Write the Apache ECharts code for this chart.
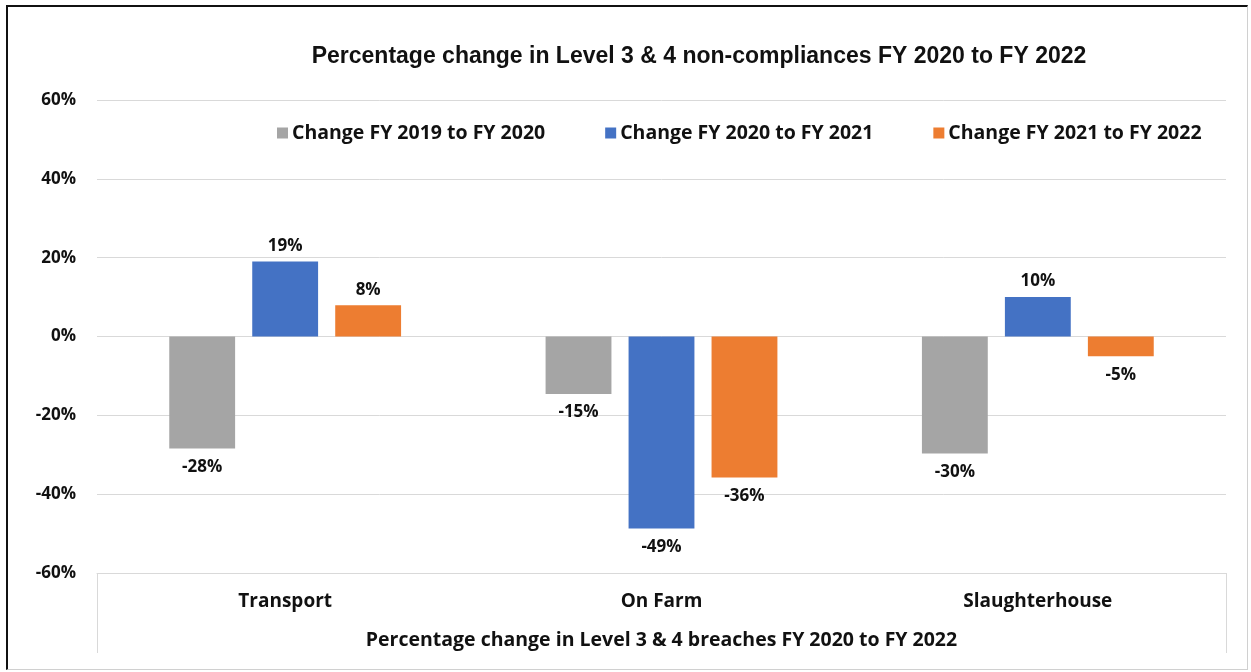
<!DOCTYPE html>
<html>
<head>
<meta charset="utf-8">
<script src="https://cdn.jsdelivr.net/npm/echarts@6/dist/echarts.min.js"></script>
<style>
html,body{margin:0;padding:0;background:#fff;}
#chart{width:1251px;height:672px;position:absolute;left:0;top:0;}
#frame{position:absolute;left:6px;top:5px;width:1242px;height:665px;box-sizing:border-box;
border-left:2px solid #111;border-top:2px solid #111;border-right:1px solid #d0d0d0;border-bottom:1px solid #d0d0d0;pointer-events:none;}
</style>
</head>
<body>
<div id="chart"></div>
<div id="frame"></div>
<script>
const categories = ['Transport', 'On Farm', 'Slaughterhouse'];
const seriesNames = ['Change FY 2019 to FY 2020', 'Change FY 2020 to FY 2021', 'Change FY 2021 to FY 2022'];
const change1920 = [-28.4, -14.6, -29.7];
const change2021 = [19, -48.7, 10];
const change2122 = [7.9, -35.8, -5];
const yTicks = [-60, -40, -20, 0, 20, 40, 60];
const titleText = 'Percentage change in Level 3 & 4 non-compliances FY 2020 to FY 2022';
const xTitle = 'Percentage change in Level 3 & 4 breaches FY 2020 to FY 2022';
const colors = ['#A5A5A5', '#4472C4', '#ED7D31'];

const font = '"Open Sans", "Noto Sans", sans-serif';

function mkData(arr) {
  return arr.map(v => ({
    value: v,
    label: { position: v < 0 ? 'bottom' : 'top', distance: v < 0 ? 10 : 7 }
  }));
}

const allSeries = [change1920, change2021, change2122].map((arr, i) => ({
  name: seriesNames[i],
  type: 'bar',
  xAxisIndex: 0,
  data: mkData(arr),
  barWidth: '17.5%',
  barGap: '26%',
  itemStyle: { color: colors[i] },
  label: {
    show: true,
    color: '#111',
    fontFamily: font,
    fontWeight: 'bold',
    fontSize: 17,
    formatter: p => Math.round(p.value) + '%'
  }
}));

const chart = echarts.init(document.getElementById('chart'), null, { renderer: 'canvas' });
chart.setOption({
  animation: false,
  backgroundColor: '#fff',
  title: {
    text: titleText,
    left: 694,
    textAlign: 'center',
    top: 40,
    textStyle: { fontFamily: '"Liberation Sans", Arial, sans-serif', fontWeight: 'bold', fontSize: 23, color: '#111' }
  },
  legend: {
    data: seriesNames,
    top: 118,
    left: 272,
    itemWidth: 11,
    itemHeight: 11,
    itemGap: 60,
    icon: 'rect',
    textStyle: { fontFamily: font, fontWeight: 'bold', fontSize: 19.5, color: '#111', padding: [0, 0, 0, -1] }
  },
  grid: { left: 97, right: 25, top: 100, bottom: 99, containLabel: false },
  xAxis: [
    {
      type: 'category',
      data: categories,
      position: 'bottom',
      axisLine: { show: true, onZero: false, lineStyle: { color: '#d9d9d9', width: 1 } },
      axisTick: { show: false },
      axisLabel: { margin: 19, color: '#111', fontFamily: font, fontWeight: 'bold', fontSize: 19 }
    },
    {
      type: 'category',
      data: [xTitle],
      position: 'bottom',
      axisLine: { show: false, onZero: false },
      axisTick: { show: true, length: 80, lineStyle: { color: '#d9d9d9', width: 1 } },
      axisLabel: { margin: 57, color: '#111', fontFamily: font, fontWeight: 'bold', fontSize: 19.5 }
    }
  ],
  yAxis: {
    type: 'value',
    min: yTicks[0],
    max: yTicks[yTicks.length - 1],
    interval: 20,
    axisLine: { show: false },
    axisTick: { show: false },
    splitLine: { show: true, lineStyle: { color: '#d9d9d9', width: 1 } },
    axisLabel: { margin: 21, color: '#111', fontFamily: font, fontWeight: 'bold', fontSize: 17, formatter: v => v + '%' }
  },
  series: allSeries
});
</script>
</body>
</html>
